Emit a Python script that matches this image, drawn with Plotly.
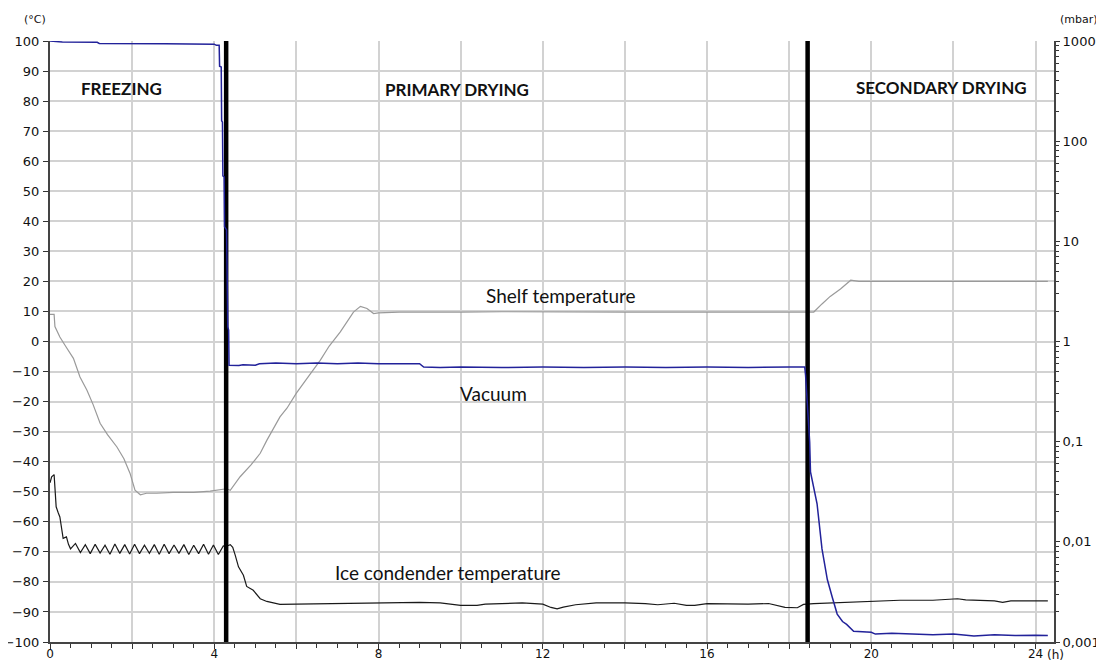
import plotly.graph_objects as go

# ---------------- data ----------------
# Shelf temperature (°C)
shelf_t = [0.0, 0.1, 0.12, 0.24, 0.4, 0.57, 0.73, 0.9, 1.05, 1.22, 1.4, 1.63, 1.8, 1.95,
           2.07, 2.2, 2.35, 2.6, 3.0, 3.5, 3.9, 4.1, 4.3, 4.39, 4.63, 4.9, 5.12, 5.28, 5.6,
           5.77, 6.0, 6.3, 6.58, 6.8, 7.07, 7.39, 7.56, 7.72, 7.88, 8.0, 8.5, 9.0, 9.5, 10.0,
           11.0, 12.0, 13.0, 14.0, 15.0, 16.0, 17.0, 18.0, 18.6, 18.8, 19.0, 19.25, 19.5,
           19.7, 20.5, 21.5, 22.5, 23.5, 24.3]
shelf_v = [9, 9, 5, 1.5, -2, -5.6, -11.8, -16.2, -21, -27.2, -31, -35.1, -39, -43.9,
           -49.5, -51, -50.5, -50.5, -50.2, -50.2, -49.8, -49.3, -49, -49.5, -45, -41, -37.2, -32.9, -25.1,
           -22.2, -17.2, -11.5, -6.3, -1.5, 3.2, 9.8, 11.7, 11, 9.3, 9.5, 9.8, 9.8, 9.9, 9.8,
           9.9, 9.8, 9.9, 9.8, 9.8, 9.9, 9.8, 9.8, 9.8, 12.5, 15, 17.5, 20.4,
           20, 20, 20.1, 20, 20.1, 20]

# Ice condenser temperature (°C)
ice_t = [0.0, 0.04, 0.1, 0.15, 0.2, 0.24, 0.32, 0.4, 0.45,
         0.50, 0.62, 0.74, 0.86, 0.98, 1.10, 1.22, 1.34, 1.46, 1.58, 1.70, 1.82, 1.94, 2.06,
         2.18, 2.30, 2.42, 2.54, 2.66, 2.78, 2.90, 3.02, 3.14, 3.26, 3.38, 3.50, 3.62, 3.74,
         3.86, 3.98, 4.10, 4.22,
         4.28, 4.39, 4.45, 4.51, 4.59, 4.71, 4.79, 4.95, 5.12, 5.28, 5.6, 6.0, 6.5, 7.0, 7.5,
         8.0, 8.5, 9.0, 9.5, 10.0, 10.4, 10.6, 11.0, 11.5, 12.0, 12.2, 12.35, 12.5, 12.8, 13.3,
         14.0, 14.5, 14.8, 15.2, 15.5, 15.7, 16.0, 16.5, 17.0, 17.5, 17.9, 18.2, 18.35, 18.6,
         19.0, 19.5, 20.0, 20.7, 21.5, 22.1, 22.3, 23.0, 23.2, 23.4, 24.3]
ice_v = [-47, -45, -44.3, -55, -57, -58.4, -65.5, -65, -67.5,
         -69, -67.2, -70.2, -67.6, -70.6, -67.5, -70.4, -67.8, -70.8, -67.4, -70.5, -67.6, -70.7, -67.5,
         -70.6, -67.8, -70.5, -67.6, -70.8, -67.5, -70.6, -67.7, -70.5, -67.6, -70.9, -67.8, -70.6, -67.5,
         -70.8, -67.7, -70.9, -68.0,
         -68.2, -67.6, -68.5, -71.1, -75, -77.8, -81.5, -82.8, -85.6, -86.5, -87.5, -87.4, -87.3, -87.2, -87,
         -87, -87, -86.8, -87, -87.8, -87.8, -87.4, -87.2, -87, -87.4, -88.5, -89, -88.4, -87.6, -87,
         -87, -87.2, -87.6, -87.1, -87.8, -87.8, -87.2, -87.4, -87.4, -87.2, -88.5, -88.6, -87.5, -87.2,
         -87, -86.7, -86.5, -86.1, -86.1, -85.6, -86, -86.3, -86.8, -86.3, -86.3]

# Vacuum (mbar)
vac_t = [0.0, 0.3, 1.15, 1.2, 2.8, 4.0, 4.05, 4.12, 4.13, 4.17, 4.18, 4.2, 4.21, 4.24, 4.25,
         4.3, 4.33, 4.35, 4.36, 4.6, 4.7, 5.0, 5.1, 5.5, 6.0, 6.5, 7.0, 7.5, 8.0, 8.5, 9.0, 9.1,
         9.5, 10.0, 11.0, 12.0, 13.0, 14.0, 15.0, 16.0, 17.0, 18.0, 18.38, 18.4, 18.45, 18.5,
         18.52, 18.6, 18.68, 18.8, 18.93, 19.05, 19.17, 19.3, 19.4, 19.57, 20.0, 20.1, 20.5,
         21.0, 21.5, 22.0, 22.5, 23.0, 23.5, 24.0, 24.3]
vac_v = [1000, 975, 970, 945, 940, 930, 905, 905, 560, 550, 160, 155, 45, 44, 14,
         13, 1.4, 1.3, 0.58, 0.575, 0.585, 0.58, 0.6, 0.61, 0.6, 0.61, 0.6, 0.61, 0.6, 0.6, 0.6, 0.555,
         0.55, 0.555, 0.55, 0.555, 0.55, 0.555, 0.55, 0.555, 0.55, 0.555, 0.555, 0.46, 0.2, 0.1,
         0.05, 0.035, 0.024, 0.0085, 0.0042, 0.0028, 0.0019, 0.0016, 0.0015, 0.00128, 0.00125, 0.0012, 0.00122,
         0.0012, 0.00118, 0.0012, 0.00115, 0.00118, 0.00116, 0.00117, 0.00116]

# Phase boundaries (h) and phase names
phase_bounds = [4.29, 18.45]
phase_names = ["FREEZING", "PRIMARY DRYING", "SECONDARY DRYING"]
series_names = ["Shelf temperature", "Vacuum", "Ice condender temperature"]

# Axis ticks
x_tickvals = [0, 2, 4, 6, 8, 10, 12, 14, 16, 18, 20, 22, 24]
x_ticktext = ["0", "", "4", "", "8", "", "12", "", "16", "", "20", "", "24"]
p_tickvals = [1000, 100, 10, 1, 0.1, 0.01, 0.001]
p_ticktext = ["1000", "100", "10", "1", "0,1", "0,01", "0,001"]

# ---------------- figure ----------------
fig = go.Figure()

fig.add_trace(go.Scatter(x=shelf_t, y=shelf_v, mode="lines",
                         line=dict(color="#9a9a9a", width=1.2), yaxis="y"))
fig.add_trace(go.Scatter(x=ice_t, y=ice_v, mode="lines",
                         line=dict(color="#1a1a1a", width=1.2), yaxis="y"))
fig.add_trace(go.Scatter(x=vac_t, y=vac_v, mode="lines",
                         line=dict(color="#22229a", width=1.5), yaxis="y2"))
for b in phase_bounds:
    fig.add_trace(go.Scatter(x=[b, b], y=[-100, 100], mode="lines",
                             line=dict(color="black", width=4.5), yaxis="y"))

tick_font = dict(family="DejaVu Sans", size=13, color="#111111")
rtick_font = dict(family="DejaVu Sans", size=13, color="#111111")
xtick_font = dict(family="DejaVu Sans", size=12, color="#111111")

minor_log = []
for e in range(-3, 3):
    for m in range(2, 10):
        minor_log.append(round(m * 10 ** e, 6))

# the page adds an 8px body margin, so the figure is sized to fit inside the window
fig.update_layout(
    width=1096, height=654, autosize=False,
    margin=dict(l=42, r=50, t=33, b=20, autoexpand=False),
    paper_bgcolor="white", plot_bgcolor="white",
    showlegend=False,
    xaxis=dict(range=[0, 24.45], tickmode="array", tickvals=x_tickvals, ticktext=x_ticktext,
               showgrid=True, gridcolor="#d2d2d2", gridwidth=2,
               ticks="outside", ticklen=5, tickwidth=1, tickcolor="#333",
               showline=True, linecolor="#444", linewidth=2,
               minor=dict(dtick=0.5, ticks="outside", ticklen=4, tickcolor="#333", showgrid=False),
               tickfont=xtick_font, zeroline=False, automargin=False, ticklabelstandoff=-5),
    yaxis=dict(range=[-100, 100], dtick=10, tick0=0,
               showgrid=True, gridcolor="#d2d2d2", gridwidth=2,
               ticks="outside", ticklen=5, tickwidth=1, tickcolor="#333",
               showline=True, linecolor="#444", linewidth=2,
               tickfont=tick_font, zeroline=False, ticklabelstandoff=1, automargin=False),
    yaxis2=dict(type="log", range=[-3, 3], overlaying="y", side="right",
                tickmode="array", tickvals=p_tickvals, ticktext=p_ticktext,
                showgrid=False, zeroline=False,
                ticks="outside", ticklen=4, tickwidth=1, tickcolor="#333",
                showline=True, linecolor="#444", linewidth=2,
                minor=dict(tickmode="array", tickvals=minor_log, ticks="outside",
                           ticklen=3, tickcolor="#333", showgrid=False),
                tickfont=rtick_font, ticklabelstandoff=0, automargin=False),
)

unit_font = dict(family="DejaVu Sans", size=11, color="#111111")
fig.add_annotation(text="(°C)", xref="paper", yref="paper", x=0, xshift=-15, y=1.0, yshift=22,
                   showarrow=False, font=unit_font, xanchor="center", yanchor="middle")
fig.add_annotation(text="(mbar)", xref="paper", yref="paper", x=1.0, xshift=4, y=1.0, yshift=22,
                   showarrow=False, font=unit_font, xanchor="left", yanchor="middle")
fig.add_annotation(text="(h)", xref="paper", yref="paper", x=1.0, xshift=1, y=0, yshift=-13,
                   showarrow=False, font=dict(family="DejaVu Sans", size=12, color="#111111"),
                   xanchor="center", yanchor="middle")

phase_font = dict(family="Lato", size=17, color="#111111", weight="bold")
phase_pos = [(1.74, 84.3), (9.9, 83.9), (21.7, 84.6)]
for name, (px, py) in zip(phase_names, phase_pos):
    fig.add_annotation(text=name, x=px, y=py, xref="x", yref="y", showarrow=False,
                       font=phase_font, xanchor="center", yanchor="middle")

label_font = dict(family="Lato", size=19, color="#111111")
label_pos = [(12.44, 15.3), (10.8, -17.2), (9.69, -76.8)]
for name, (px, py) in zip(series_names, label_pos):
    fig.add_annotation(text=name, x=px, y=py, xref="x", yref="y", showarrow=False,
                       font=label_font, xanchor="center", yanchor="middle")

fig.write_html("out.html")
